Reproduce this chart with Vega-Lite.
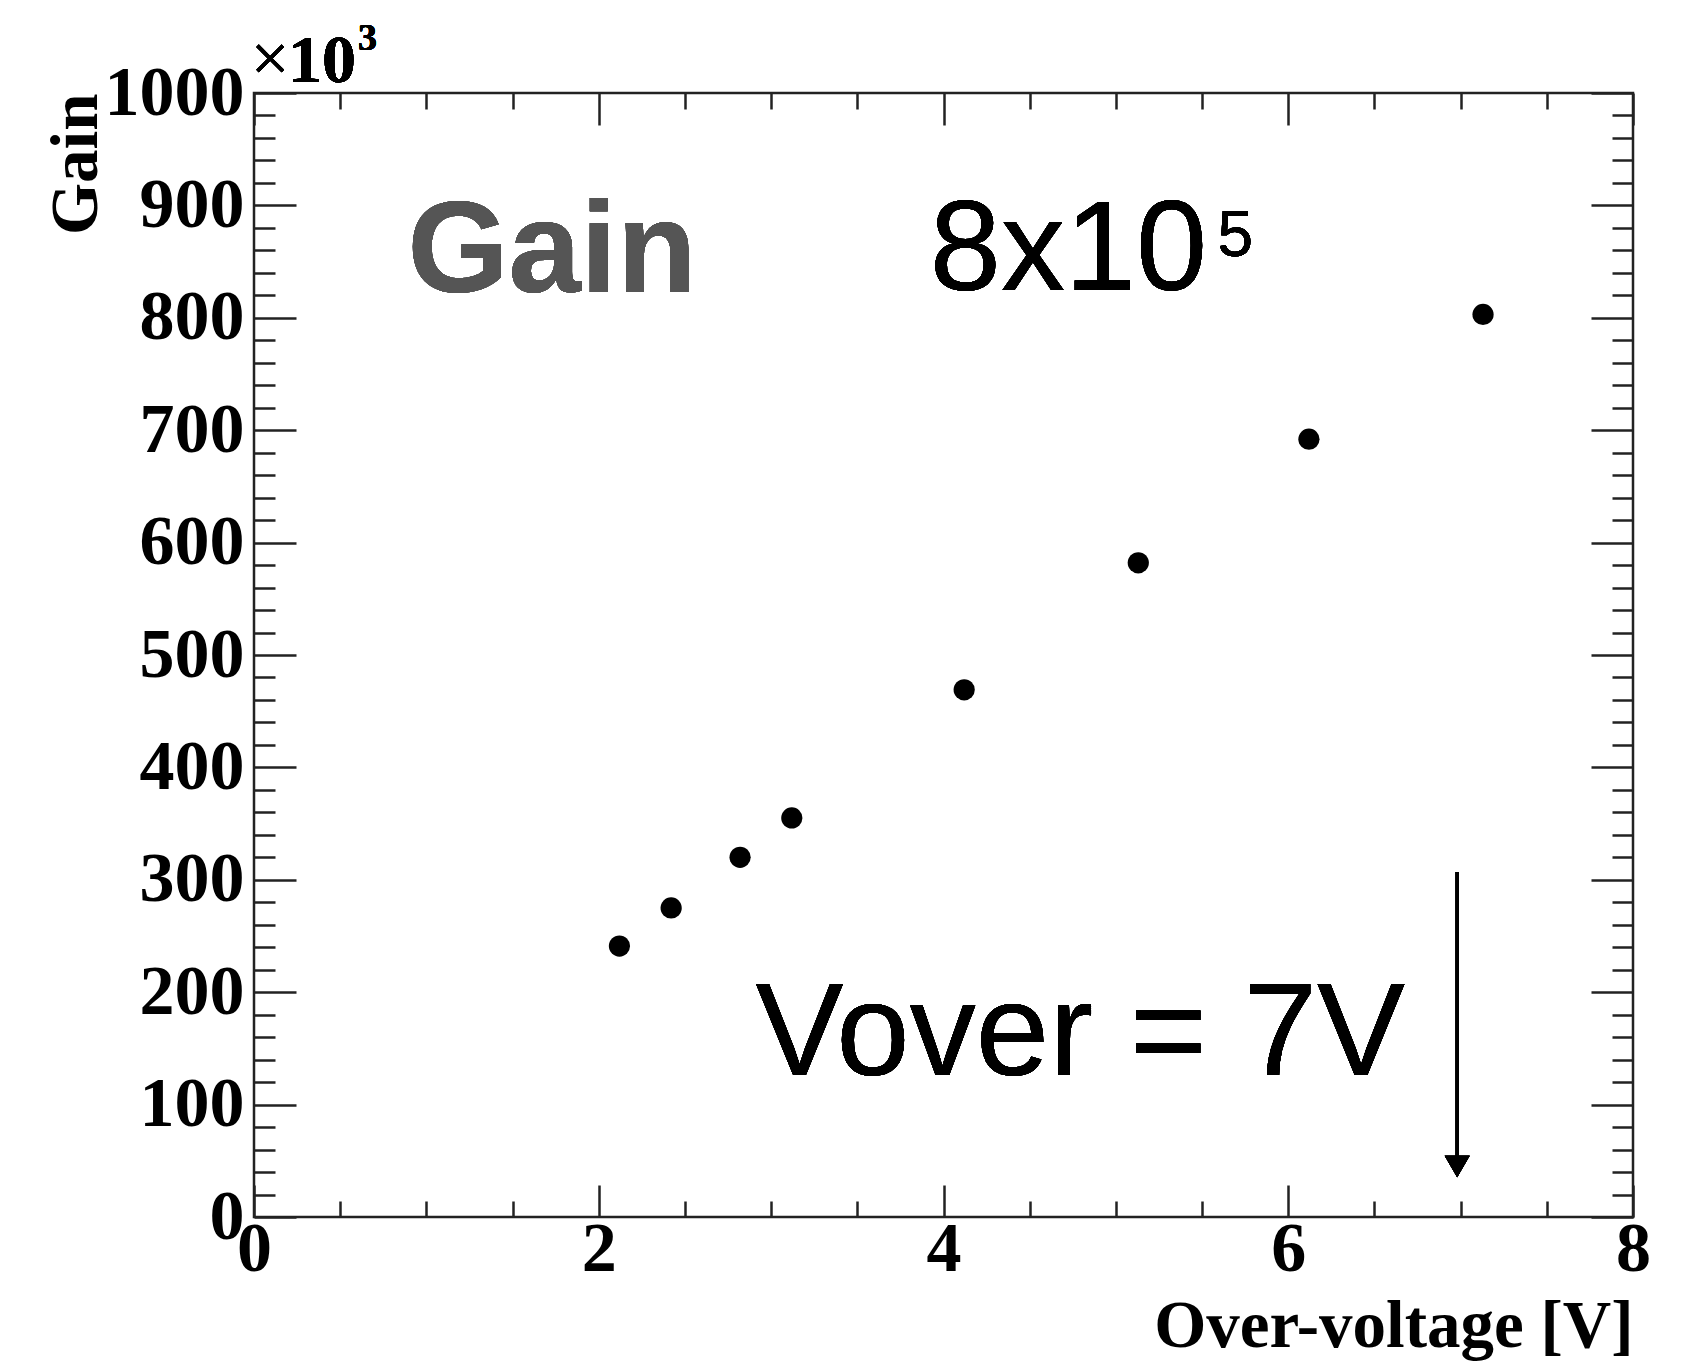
{
  "$schema": "https://vega.github.io/schema/vega-lite/v6.json",
  "width": 1379,
  "height": 1124,
  "autosize": "none",
  "padding": {"left": 254, "top": 93, "right": 48, "bottom": 146},
  "background": "white",
  "config": {
    "view": {"stroke": "#222222", "strokeWidth": 2.5},
    "axis": {
      "domain": false,
      "grid": false,
      "tickColor": "#222222",
      "tickWidth": 2.5,
      "labelFont": "Liberation Serif",
      "labelFontWeight": "bold",
      "labelFontSize": 70,
      "labelColor": "black",
      "labelFlush": false,
      "labelOverlap": false,
      "titleFont": "Liberation Serif",
      "titleFontWeight": "bold",
      "titleFontSize": 67,
      "titleColor": "black"
    }
  },
  "data": {
    "values": [
      {"overvoltage": 2.12, "gain": 241},
      {"overvoltage": 2.42, "gain": 275},
      {"overvoltage": 2.82, "gain": 320},
      {"overvoltage": 3.12, "gain": 355},
      {"overvoltage": 4.12, "gain": 469},
      {"overvoltage": 5.13, "gain": 582},
      {"overvoltage": 6.12, "gain": 692},
      {"overvoltage": 7.13, "gain": 803}
    ]
  },
  "resolve": {"axis": {"x": "independent", "y": "independent"}},
  "layer": [
    {
      "mark": {"type": "circle", "size": 450, "color": "black", "opacity": 1},
      "encoding": {
        "x": {
          "field": "overvoltage", "type": "quantitative",
          "scale": {"domain": [0, 8], "nice": false, "zero": false},
          "axis": {
            "orient": "bottom", "values": [0, 2, 4, 6, 8], "format": "d",
            "tickSize": -32, "labelPadding": 30, "labelBaseline": "top",
            "title": "Over-voltage [V]", "titleAnchor": "end", "titlePadding": 9
          }
        },
        "y": {
          "field": "gain", "type": "quantitative",
          "scale": {"domain": [0, 1000], "nice": false, "zero": false},
          "axis": {
            "orient": "left", "values": [0, 100, 200, 300, 400, 500, 600, 700, 800, 900, 1000], "format": "d",
            "tickSize": -42, "labelPadding": 52, "labelBaseline": "middle",
            "title": "Gain", "titleAnchor": "end", "titlePadding": -6
          }
        }
      }
    },
    {
      "mark": {"type": "rule", "color": "black", "strokeWidth": 3},
      "encoding": {
        "x": {
          "datum": 6.98, "type": "quantitative",
          "axis": {
            "orient": "bottom",
            "values": [0.5, 1, 1.5, 2.5, 3, 3.5, 4.5, 5, 5.5, 6.5, 7, 7.5],
            "tickSize": -16, "labels": false, "title": null
          }
        },
        "y": {
          "datum": 307, "type": "quantitative",
          "axis": {
            "orient": "left",
            "values": [20, 40, 60, 80, 120, 140, 160, 180, 220, 240, 260, 280, 320, 340, 360, 380, 420, 440, 460, 480, 520, 540, 560, 580, 620, 640, 660, 680, 720, 740, 760, 780, 820, 840, 860, 880, 920, 940, 960, 980],
            "tickSize": -21, "labels": false, "title": null
          }
        },
        "y2": {"datum": 50}
      }
    },
    {
      "mark": {"type": "point", "shape": "triangle-down", "size": 620, "filled": true, "color": "black", "opacity": 1},
      "encoding": {
        "x": {
          "datum": 6.98, "type": "quantitative",
          "axis": {
            "orient": "top", "values": [0, 2, 4, 6, 8],
            "tickSize": -32, "labels": false, "title": null
          }
        },
        "y": {
          "datum": 45, "type": "quantitative",
          "axis": {
            "orient": "right", "values": [0, 100, 200, 300, 400, 500, 600, 700, 800, 900, 1000],
            "tickSize": -42, "labels": false, "title": null
          }
        }
      }
    },
    {
      "mark": {"type": "text", "text": "Gain", "font": "Liberation Sans", "fontWeight": "bold", "fontSize": 130, "color": "#555555", "align": "left", "baseline": "alphabetic"},
      "encoding": {
        "x": {
          "datum": 0.89, "type": "quantitative",
          "axis": {
            "orient": "top",
            "values": [0.5, 1, 1.5, 2.5, 3, 3.5, 4.5, 5, 5.5, 6.5, 7, 7.5],
            "tickSize": -16, "labels": false, "title": null
          }
        },
        "y": {
          "datum": 823, "type": "quantitative",
          "axis": {
            "orient": "right",
            "values": [20, 40, 60, 80, 120, 140, 160, 180, 220, 240, 260, 280, 320, 340, 360, 380, 420, 440, 460, 480, 520, 540, 560, 580, 620, 640, 660, 680, 720, 740, 760, 780, 820, 840, 860, 880, 920, 940, 960, 980],
            "tickSize": -21, "labels": false, "title": null
          }
        }
      }
    },
    {
      "mark": {"type": "text", "text": "8x10", "font": "Liberation Sans", "fontSize": 128, "color": "black", "align": "left", "baseline": "alphabetic"},
      "encoding": {
        "x": {"datum": 3.92, "type": "quantitative", "axis": null},
        "y": {"datum": 825, "type": "quantitative", "axis": null}
      }
    },
    {
      "mark": {"type": "text", "text": "5", "font": "Liberation Sans", "fontSize": 64, "color": "black", "align": "left", "baseline": "alphabetic"},
      "encoding": {
        "x": {"datum": 5.59, "type": "quantitative", "axis": null},
        "y": {"datum": 855, "type": "quantitative", "axis": null}
      }
    },
    {
      "mark": {"type": "text", "text": "Vover = 7V", "font": "Liberation Sans", "fontSize": 132, "color": "black", "align": "left", "baseline": "alphabetic"},
      "encoding": {
        "x": {"datum": 2.91, "type": "quantitative", "axis": null},
        "y": {"datum": 126, "type": "quantitative", "axis": null}
      }
    },
    {
      "mark": {"type": "text", "text": "×", "font": "Liberation Serif", "fontSize": 68, "color": "black", "align": "left", "baseline": "alphabetic", "dx": -3, "dy": -12},
      "encoding": {
        "x": {"datum": 0, "type": "quantitative", "axis": null},
        "y": {"datum": 1000, "type": "quantitative", "axis": null}
      }
    },
    {
      "mark": {"type": "text", "text": "10", "font": "Liberation Serif", "fontWeight": "bold", "fontSize": 68, "color": "black", "align": "left", "baseline": "alphabetic", "dx": 34, "dy": -11},
      "encoding": {
        "x": {"datum": 0, "type": "quantitative", "axis": null},
        "y": {"datum": 1000, "type": "quantitative", "axis": null}
      }
    },
    {
      "mark": {"type": "text", "text": "3", "font": "Liberation Serif", "fontWeight": "bold", "fontSize": 38, "color": "black", "align": "left", "baseline": "alphabetic", "dx": 104, "dy": -43},
      "encoding": {
        "x": {"datum": 0, "type": "quantitative", "axis": null},
        "y": {"datum": 1000, "type": "quantitative", "axis": null}
      }
    }
  ]
}
